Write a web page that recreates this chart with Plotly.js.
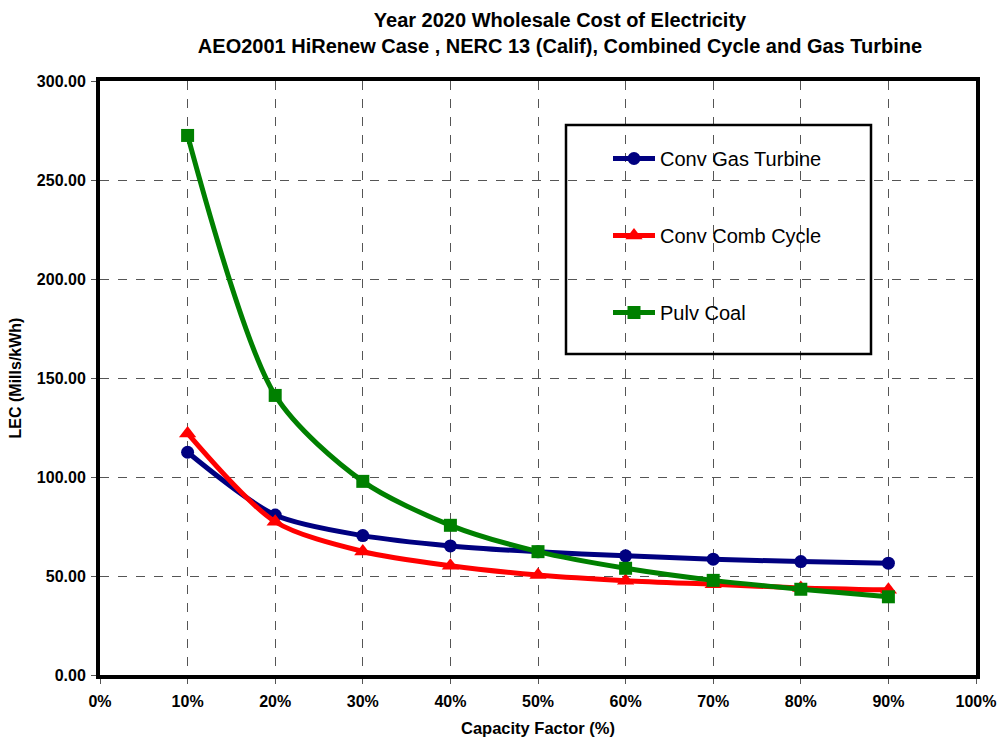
<!DOCTYPE html>
<html>
<head>
<meta charset="utf-8">
<script src="https://cdn.plot.ly/plotly-3.0.1.min.js"></script>
<style>html,body{margin:0;padding:0;background:#fff;}#chart{width:1000px;height:740px;}</style>
</head>
<body>
<div id="chart"></div>
<script>
const capacityFactor = [0.1, 0.2, 0.3, 0.4, 0.5, 0.6, 0.7, 0.8, 0.9];
const convGasTurbine = [112.5, 80.8, 70.4, 65.2, 62.2, 60.2, 58.5, 57.3, 56.5];
const convCombCycle  = [122.0, 77.4, 62.4, 55.2, 50.5, 47.6, 45.8, 44.0, 43.0];
const pulvCoal       = [272.5, 141.2, 97.8, 75.6, 62.3, 53.9, 47.8, 43.3, 39.5];
const seriesNames = ["Conv Gas Turbine", "Conv Comb Cycle", "Pulv Coal"];
const yTickVals = [0, 50, 100, 150, 200, 250, 300];
const xTickVals = [0, 0.1, 0.2, 0.3, 0.4, 0.5, 0.6, 0.7, 0.8, 0.9, 1.0];

const font = "Arial, 'Liberation Sans', sans-serif";

function tr(y, name, color, symbol, size, grp) {
  return {
    x: capacityFactor, y: y, name: name, type: "scatter", mode: "lines+markers",
    line: {color: color, width: 5, shape: "spline", smoothing: 0.8},
    marker: {color: color, symbol: symbol, size: size},
    legendgroup: grp
  };
}

const data = [
  tr(convGasTurbine, seriesNames[0], "#000080", "circle", 13, "a"),
  tr(convCombCycle, seriesNames[1], "#ff0000", "triangle-up", 15, "b"),
  tr(pulvCoal, seriesNames[2], "#008000", "square", 13, "c")
];

const layout = {
  width: 1000, height: 740,
  paper_bgcolor: "#ffffff", plot_bgcolor: "#ffffff",
  margin: {l: 100, r: 24, t: 81, b: 65},
  font: {family: font, color: "#000"},
  title: {
    text: "<b>Year 2020 Wholesale Cost of Electricity<br>AEO2001 HiRenew Case , NERC 13 (Calif), Combined Cycle and Gas Turbine</b>",
    font: {family: font, size: 20, color: "#000"},
    xref: "container", x: 0.56, xanchor: "center",
    yref: "container", y: 1 - 27 / 740, yanchor: "middle"
  },
  xaxis: {
    range: [0, 1], tickvals: xTickVals, tickformat: ".0%",
    showgrid: true, gridcolor: "#555", griddash: "dash", gridwidth: 1,
    showline: true, linecolor: "#000", linewidth: 4, mirror: true,
    ticks: "outside", ticklen: 5, tickcolor: "#555",
    ticklabelstandoff: 4,
    zeroline: false,
    tickfont: {family: font, size: 16, color: "#000", weight: "bold"},
    title: {text: "<b>Capacity Factor (%)</b>", font: {family: font, size: 16.5, color: "#000"}, standoff: 14}
  },
  yaxis: {
    range: [0, 300], tickvals: yTickVals, tickformat: ".2f",
    showgrid: true, gridcolor: "#555", griddash: "dash", gridwidth: 1,
    showline: true, linecolor: "#000", linewidth: 4, mirror: true,
    ticks: "outside", ticklen: 5, tickcolor: "#555",
    ticklabelstandoff: 2,
    zeroline: false,
    tickfont: {family: font, size: 16, color: "#000", weight: "bold"},
    title: {text: "<b>LEC (Mills/kWh)</b>", font: {family: font, size: 16, color: "#000"}, standoff: 12}
  },
  showlegend: true,
  legend: {
    x: (608 - 100) / 876, y: 1 - (139 - 81) / 594, xanchor: "left", yanchor: "top",
    bgcolor: "rgba(0,0,0,0)", borderwidth: 0,
    font: {family: font, size: 20, color: "#000"},
    itemwidth: 42,
    tracegroupgap: 48, traceorder: "grouped"
  },
  shapes: [{
    type: "rect", xref: "paper", yref: "paper",
    x0: (566 - 100) / 876, x1: (871 - 100) / 876,
    y0: 1 - (354 - 81) / 594, y1: 1 - (125 - 81) / 594,
    line: {color: "#000", width: 2.5}, fillcolor: "rgba(0,0,0,0)", layer: "above"
  }]
};

Plotly.newPlot("chart", data, layout, {displayModeBar: false, staticPlot: true});
</script>
</body>
</html>
